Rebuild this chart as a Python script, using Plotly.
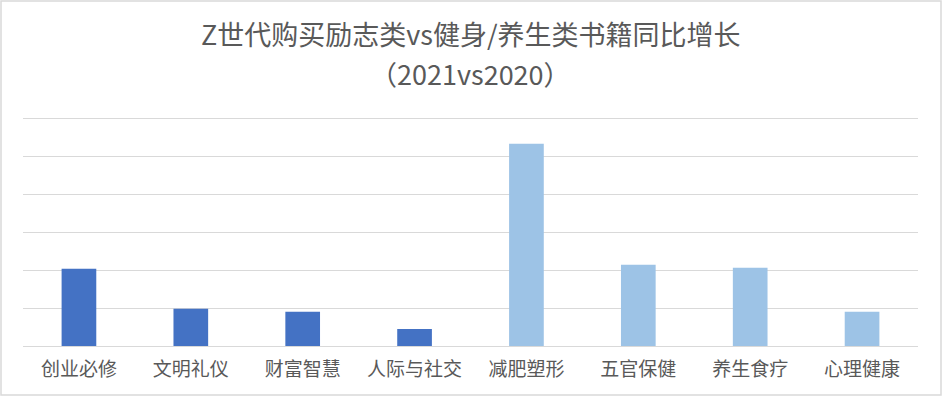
import plotly.graph_objects as go

categories = ["创业必修", "文明礼仪", "财富智慧", "人际与社交", "减肥塑形", "五官保健", "养生食疗", "心理健康"]
values = [2.03, 0.98, 0.90, 0.45, 5.32, 2.14, 2.06, 0.90]
bar_colors = ["#4472C4"] * 4 + ["#9DC3E6"] * 4
title_line1 = "Z世代购买励志类vs健身/养生类书籍同比增长"
title_line2 = "（2021vs2020）"

W, H = 942, 396
ml, mr, mt, mb = 23, 24, 108, 50
ph = H - mt - mb
pw = W - ml - mr
grid_top_px = 118  # pixel row of the value-6 gridline
y_max = 6 * ph / (H - mb - grid_top_px)

fig = go.Figure(go.Bar(
    x=categories, y=values, marker=dict(color=bar_colors, line=dict(width=0)),
    width=0.31, hoverinfo="x+y",
))

title_font = dict(size=27, color="#595959", family="Noto Sans CJK SC")

fig.update_layout(
    width=W, height=H,
    margin=dict(l=ml, r=mr, t=mt, b=mb),
    paper_bgcolor="white", plot_bgcolor="white",
    showlegend=False,
    font=dict(family="Noto Sans CJK SC", color="#595959"),
    xaxis=dict(
        showgrid=False, showline=True, linecolor="#D9D9D9", linewidth=1,
        ticks="", tickfont=dict(size=19, color="#595959"),
        ticklabelstandoff=6,
    ),
    yaxis=dict(
        range=[0, y_max], tickvals=[0, 1, 2, 3, 4, 5, 6], showgrid=True,
        gridcolor="#D9D9D9", gridwidth=1,
        showticklabels=False, zeroline=False, showline=False, ticks="",
    ),
    annotations=[
        dict(text=title_line1, xref="paper", yref="paper", x=0.5, xanchor="center",
             y=(H - mb - 33) / ph, yanchor="middle", showarrow=False,
             borderpad=0, font=title_font),
        dict(text=title_line2, xref="paper", yref="paper", x=0.5, xanchor="center",
             y=(H - mb - 73) / ph, yanchor="middle", showarrow=False,
             borderpad=0, font=title_font),
    ],
    shapes=[dict(
        type="rect", xref="paper", yref="paper",
        x0=-(ml - 1) / pw, x1=1 + (mr - 1) / pw,
        y0=-(mb - 1) / ph, y1=1 + (mt - 1) / ph,
        line=dict(color="#D9D9D9", width=1.5), fillcolor="rgba(0,0,0,0)",
        layer="below",
    )],
)

fig.write_html(
    "out.html",
    config={"displayModeBar": False},
    post_script="document.body.style.margin='0';document.body.style.overflow='hidden';",
)
